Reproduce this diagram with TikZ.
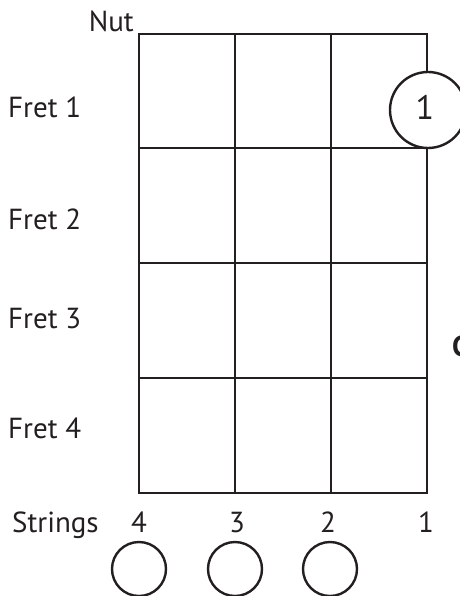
\documentclass[tikz,border=0pt]{standalone}
\usepackage{fontspec}
\setmainfont{PT Sans}
\definecolor{ink}{HTML}{231F20}
\begin{document}
\begin{tikzpicture}[x=1pt,y=-1pt,
  lbl/.style={font=\fontsize{29}{31}\selectfont, text=ink, inner sep=0pt},
  gridline/.style={draw=ink, line width=2.8pt},
  ring/.style={circle, draw=ink, line width=2.4pt, inner sep=0pt, minimum size=#1}]
\useasboundingbox (0,0) rectangle (459,596);
% grid
\draw[gridline] (139,34) rectangle (427,493);
\foreach \x in {235,331} \draw[gridline] (\x,34) -- (\x,493);
\foreach \y in {148,263,378} \draw[gridline] (139,\y) -- (427,\y);
% labels
\node[lbl, anchor=base east] (nut) at (134,32) {Nut};
\node[lbl, anchor=base west] (f1) at (8,118) {Fret 1};
\node[lbl, anchor=base west] (f2) at (8,229) {Fret 2};
\node[lbl, anchor=base west] (f3) at (8,328) {Fret 3};
\node[lbl, anchor=base west] (f4) at (8,438) {Fret 4};
\node[lbl, anchor=base west] (strings) at (12,532) {Strings};
\node[lbl, anchor=base] (s4) at (139,532) {4};
\node[lbl, anchor=base] (s3) at (237,532) {3};
\node[lbl, anchor=base] (s2) at (328,532) {2};
\node[lbl, anchor=base] (s1) at (426,532) {1};
% finger circle
\node[ring=76pt, fill=white] (finger) at (428,110) {};
\node[font=\fontsize{34}{36}\selectfont, text=ink, inner sep=0pt] (fingernum) at (425,107) {1};
% open string circles
\node[ring=54pt] (o4) at (139,569) {};
\node[ring=54pt] (o3) at (235,569) {};
\node[ring=54pt] (o2) at (330,569) {};
% partial glyph at right edge (cut off in the reference too)
\node[lbl, anchor=west, font=\bfseries\fontsize{29}{31}\selectfont] (cut) at (452,346) {C};
\end{tikzpicture}
\end{document}
